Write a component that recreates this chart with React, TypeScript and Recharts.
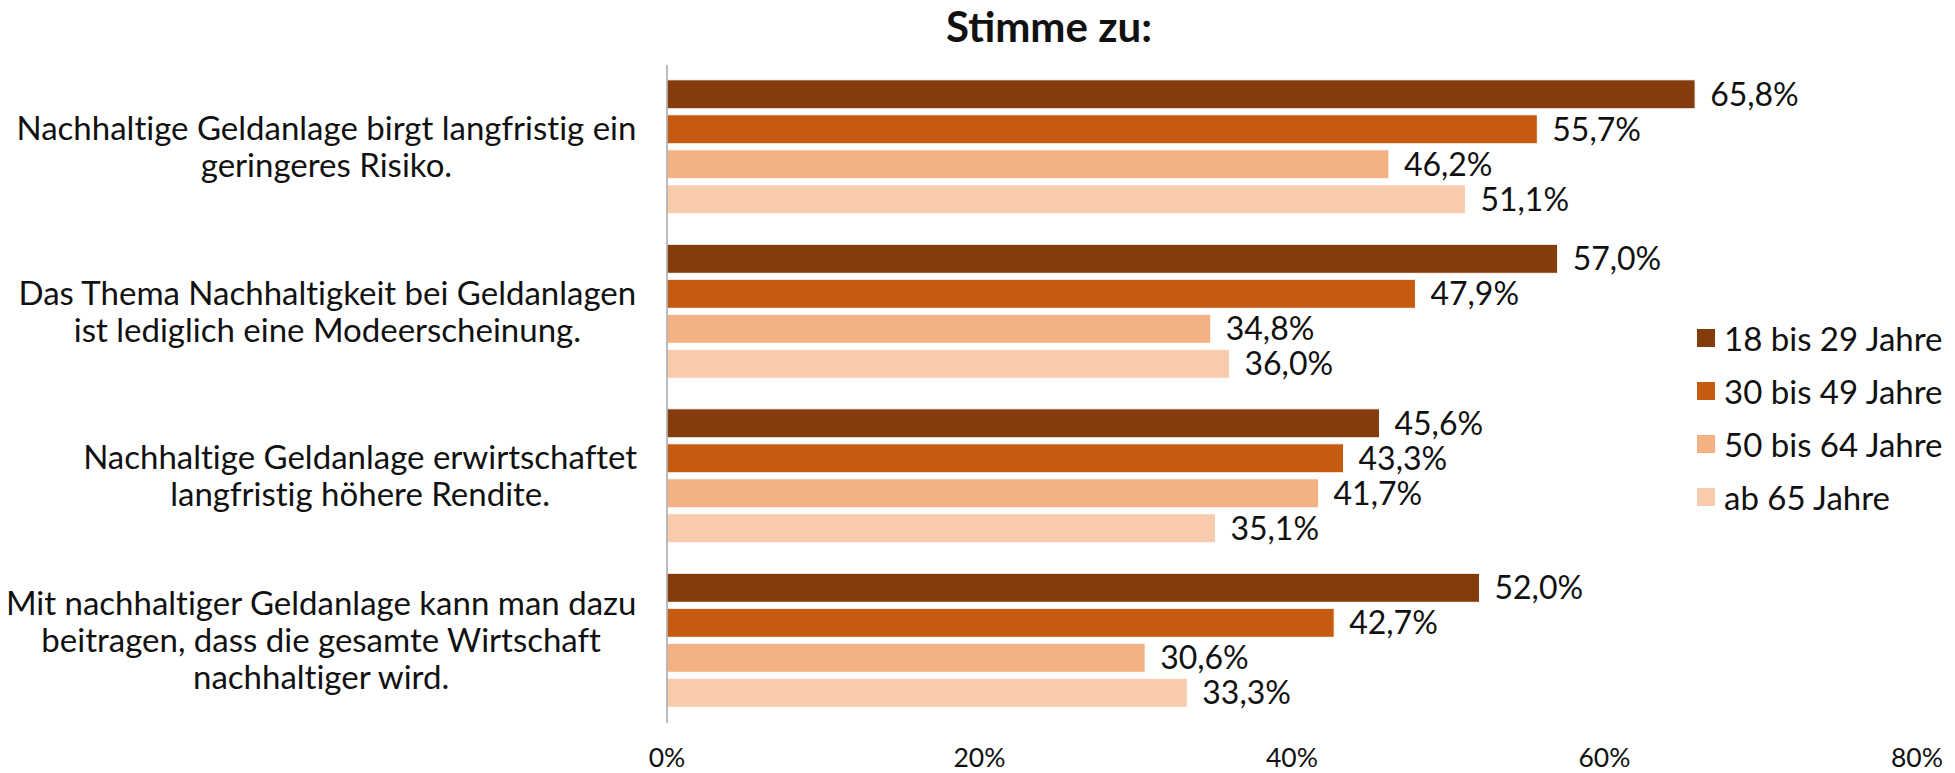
import React from "react";
import { BarChart, Bar, XAxis, YAxis, Legend, LabelList } from "recharts";

const categories = [
  "Nachhaltige Geldanlage birgt langfristig ein\ngeringeres Risiko.",
  "Das Thema Nachhaltigkeit bei Geldanlagen\nist lediglich eine Modeerscheinung.",
  "Nachhaltige Geldanlage erwirtschaftet\nlangfristig höhere Rendite.",
  "Mit nachhaltiger Geldanlage kann man dazu\nbeitragen, dass die gesamte Wirtschaft\nnachhaltiger wird.",
];

const age18to29 = [65.8, 57.0, 45.6, 52.0];
const age30to49 = [55.7, 47.9, 43.3, 42.7];
const age50to64 = [46.2, 34.8, 41.7, 30.6];
const age65plus = [51.1, 36.0, 35.1, 33.3];

const seriesNames = ["18 bis 29 Jahre", "30 bis 49 Jahre", "50 bis 64 Jahre", "ab 65 Jahre"];
const seriesColors = ["#843C0C", "#C55A11", "#F4B183", "#F8CBAD"];
const xTicks = [0, 20, 40, 60, 80];

const data = categories.map((name, i) => ({
  name,
  s0: age18to29[i],
  s1: age30to49[i],
  s2: age50to64[i],
  s3: age65plus[i],
}));

const FONT = "Lato, 'Open Sans', sans-serif";
const noLig = { fontVariantLigatures: "none" } as React.CSSProperties;
const fmt = (v: number) => v.toFixed(1).replace(".", ",") + "%";

// measure text so each label block is centred, with its widest line ending at the same x
let ctx: CanvasRenderingContext2D | null = null;
function textWidth(s: string, size: number) {
  if (!ctx) ctx = document.createElement("canvas").getContext("2d");
  if (!ctx) return s.length * size * 0.5;
  ctx.font = `${size}px Lato`;
  return ctx.measureText(s).width;
}

function CategoryTick({ x, y, payload }: any) {
  const size = 33;
  const lines: string[] = String(payload.value).split("\n");
  const lh = 37;
  const maxW = Math.max(...lines.map((l) => textWidth(l, size)));
  const cx = x - 22 - maxW / 2;
  const start = y - ((lines.length - 1) * lh) / 2;
  return (
    <text x={cx} y={start} textAnchor="middle" fontFamily={FONT} fontSize={size} fill="#111" style={noLig}>
      {lines.map((l, i) => (
        <tspan key={i} x={cx} y={start + i * lh} dy="0.35em">
          {l}
        </tspan>
      ))}
    </text>
  );
}

function PctTick({ x, y, payload }: any) {
  return (
    <text x={x} y={y + 36} textAnchor="middle" fontFamily={FONT} fontSize={26.5} fill="#111">
      {payload.value}%
    </text>
  );
}

function LegendBox() {
  return (
    <div style={{ fontFamily: FONT, fontSize: 33, color: "#111", ...noLig }}>
      {seriesNames.map((n, i) => (
        <div key={n} style={{ display: "flex", alignItems: "center", height: 53 }}>
          <span style={{ width: 18, height: 18, background: seriesColors[i], marginRight: 9 }} />
          <span>{n}</span>
        </div>
      ))}
    </div>
  );
}

export default function App() {
  return (
    <div style={{ position: "absolute", left: 0, top: 0, width: 1955, height: 773, background: "#fff" }}>
      <div
        style={{
          position: "absolute",
          left: 0,
          width: 2098,
          top: 1,
          textAlign: "center",
          fontFamily: FONT,
          fontWeight: 700,
          fontSize: 42,
          color: "#111",
        }}
      >
        Stimme zu:
      </div>
      <BarChart
        width={1955}
        height={773}
        data={data}
        layout="vertical"
        margin={{ top: 65, right: 38, bottom: 0, left: 0 }}
        barCategoryGap="9%"
        barGap={6}
      >
        <XAxis
          type="number"
          domain={[0, 80]}
          ticks={xTicks}
          height={50}
          axisLine={false}
          tickLine={false}
          tick={<PctTick />}
          interval={0}
        />
        <YAxis
          type="category"
          dataKey="name"
          width={667}
          axisLine={{ stroke: "#A6A6A6", strokeWidth: 1.5 }}
          tickLine={false}
          tick={<CategoryTick />}
          interval={0}
        />
        <Legend
          layout="vertical"
          align="center"
          verticalAlign="middle"
          content={<LegendBox />}
          wrapperStyle={{ left: 1697, top: 311, width: 258 }}
        />
        {seriesNames.map((n, i) => (
          <Bar
            key={n}
            dataKey={"s" + i}
            name={n}
            fill={seriesColors[i]}
            stroke="#ffffff"
            strokeWidth={1}
            isAnimationActive={false}
          >
            <LabelList
              dataKey={"s" + i}
              position="right"
              offset={15}
              formatter={(v: any) => fmt(Number(v))}
              style={{ fontFamily: FONT, fontSize: 32, fill: "#111" }}
            />
          </Bar>
        ))}
      </BarChart>
    </div>
  );
}
